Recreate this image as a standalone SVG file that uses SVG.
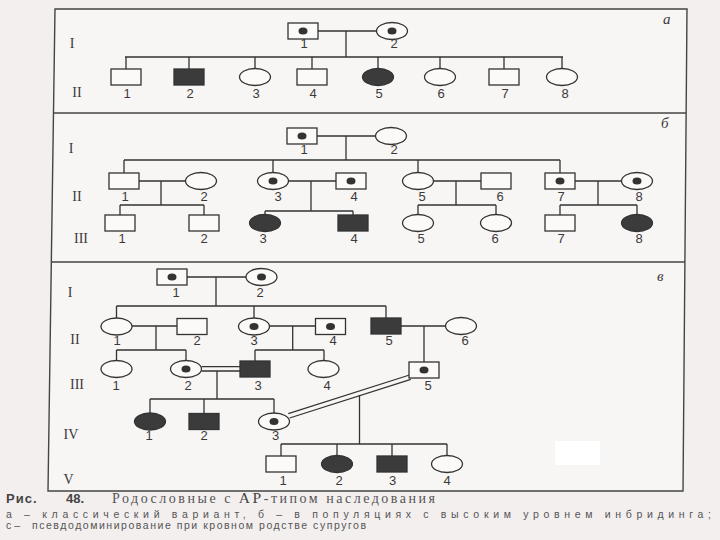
<svg xmlns="http://www.w3.org/2000/svg" width="720" height="540" viewBox="0 0 720 540">
<style>
.m{fill:#fbfaf9;stroke:#333;stroke-width:1.3}
.a{fill:#3b3b3b;stroke:#333;stroke-width:1.3}
.dot{fill:#333}
.ln{stroke:#333;stroke-width:1.3;fill:none}
.fr{stroke:#444;stroke-width:1.4;fill:none}
.num{font-family:"Liberation Sans",Arial,sans-serif;font-size:13px;fill:#3a3a3a;text-anchor:middle}
.rom{font-family:"Liberation Serif","Times New Roman",serif;font-size:14px;fill:#3a3a3a;text-anchor:middle}
.pl{font-family:"Liberation Serif","Times New Roman",serif;font-style:italic;font-size:15px;fill:#3a3a3a}
.cap{font-family:"Liberation Sans",Arial,sans-serif;font-size:10.5px;fill:#555}
</style>
<rect width="720" height="540" fill="#f3efef"/>
<path d="M55 9 H687 L683 491 H48 Z" fill="#f8f5f5"/>
<rect x="555" y="441" width="45" height="24" fill="#ffffff"/>
<g id="frame">
<path class="fr" d="M55 9 H687 L683 491 H48 Z"/>
<line class="fr" x1="54" y1="113" x2="686" y2="113"/>
<line class="fr" x1="52" y1="262" x2="685" y2="262"/>
</g>

<!-- connectors -->
<g id="connectors">
<!-- panel a -->
<path class="ln" d="M318 31 H376.5 M346 31 V57 M125 57 H563 M126 57 V69 M189 57 V69 M255 57 V68.5 M312 57 V69 M378 57 V68.5 M440 57 V68.5 M504 57 V69 M562 57 V68.5"/>
<!-- panel b -->
<path class="ln" d="M317 136 H375.5 M346 136 V160 M124 160 H560 M124 160 V173 M273 160 V172.5 M418 160 V172.5 M560 160 V173"/>
<path class="ln" d="M139 181 H185.5 M161 181 V205 M120 205 H204 M120 205 V215 M204 205 V215"/>
<path class="ln" d="M288.5 181 H336 M311 181 V211 M265 211 V214.5 M265 211 H353 M353 211 V215"/>
<path class="ln" d="M433.5 181 H481 M456 181 V205 M418 205 H496 M418 205 V214.5 M496 205 V214.5"/>
<path class="ln" d="M575 181 H621.5 M598 181 V205 M560 205 H637 M560 205 V215 M637 205 V214.5"/>
<!-- panel c -->
<path class="ln" d="M187 277 H246 M216 277 V306 M116.5 306 H386 M116.5 306 V318 M254 306 V318 M386 306 V318"/>
<path class="ln" d="M132 326 H177 M156 326 V350 M116.5 350 H186 M116.5 350 V360.5 M186 350 V360.5"/>
<path class="ln" d="M269.5 326 H315.5 M292.7 326 V350 M255 350 H324 M255 350 V361 M324 350 V360.5"/>
<path class="ln" d="M401 326 H445.5 M424 326 V362"/>
<path class="ln" d="M201.5 366.7 H240 M201.5 371 H240 M217 371 V399 M150 399 H274 M150 399 V413 M204 399 V413.5 M274 399 V413"/>
<path class="ln" d="M410.8 379.3 L289.6 418 M409.5 375 L288.3 413.7"/>
<path class="ln" d="M359.5 395 V444 M281 444 H447 M281 444 V456 M337 444 V455.5 M392 444 V456 M447 444 V455.5"/>
</g>

<!-- panel a nodes -->
<g id="a-I-1"><rect class="m" x="288" y="23" width="30" height="16"/><ellipse class="dot" cx="303" cy="31" rx="4.5" ry="3.5"/><text class="num" x="304" y="48">1</text></g>
<g id="a-I-2"><ellipse class="m" cx="392" cy="31" rx="15.5" ry="8.5"/><ellipse class="dot" cx="392" cy="31" rx="4.5" ry="3.5"/><text class="num" x="394" y="48">2</text></g>
<g id="a-II-1"><rect class="m" x="111" y="69" width="30" height="16"/><text class="num" x="127" y="98">1</text></g>
<g id="a-II-2"><rect class="a" x="174" y="69" width="30" height="16"/><text class="num" x="190" y="98">2</text></g>
<g id="a-II-3"><ellipse class="m" cx="255" cy="77" rx="15.5" ry="8.5"/><text class="num" x="256" y="98">3</text></g>
<g id="a-II-4"><rect class="m" x="297" y="69" width="30" height="16"/><text class="num" x="313" y="98">4</text></g>
<g id="a-II-5"><ellipse class="a" cx="378" cy="77" rx="15.5" ry="8.5"/><text class="num" x="379" y="98">5</text></g>
<g id="a-II-6"><ellipse class="m" cx="440" cy="77" rx="15.5" ry="8.5"/><text class="num" x="441" y="98">6</text></g>
<g id="a-II-7"><rect class="m" x="489" y="69" width="30" height="16"/><text class="num" x="505" y="98">7</text></g>
<g id="a-II-8"><ellipse class="m" cx="562" cy="77" rx="15.5" ry="8.5"/><text class="num" x="565" y="98">8</text></g>

<!-- panel b nodes -->
<g id="b-I-1"><rect class="m" x="287" y="128" width="30" height="16"/><ellipse class="dot" cx="302" cy="136" rx="4.5" ry="3.5"/><text class="num" x="304" y="154">1</text></g>
<g id="b-I-2"><ellipse class="m" cx="391" cy="136" rx="15.5" ry="8.5"/><text class="num" x="394" y="154">2</text></g>
<g id="b-II-1"><rect class="m" x="109" y="173" width="30" height="16"/><text class="num" x="125" y="201">1</text></g>
<g id="b-II-2"><ellipse class="m" cx="201" cy="181" rx="15.5" ry="8.5"/><text class="num" x="204" y="201">2</text></g>
<g id="b-II-3"><ellipse class="m" cx="273" cy="181" rx="15.5" ry="8.5"/><ellipse class="dot" cx="273" cy="181" rx="4.5" ry="3.5"/><text class="num" x="278" y="201">3</text></g>
<g id="b-II-4"><rect class="m" x="336" y="173" width="30" height="16"/><ellipse class="dot" cx="351" cy="181" rx="4.5" ry="3.5"/><text class="num" x="354" y="201">4</text></g>
<g id="b-II-5"><ellipse class="m" cx="418" cy="181" rx="15.5" ry="8.5"/><text class="num" x="422" y="201">5</text></g>
<g id="b-II-6"><rect class="m" x="481" y="173" width="30" height="16"/><text class="num" x="500" y="201">6</text></g>
<g id="b-II-7"><rect class="m" x="545" y="173" width="30" height="16"/><ellipse class="dot" cx="560" cy="181" rx="4.5" ry="3.5"/><text class="num" x="561" y="201">7</text></g>
<g id="b-II-8"><ellipse class="m" cx="637" cy="181" rx="15.5" ry="8.5"/><ellipse class="dot" cx="637" cy="181" rx="4.5" ry="3.5"/><text class="num" x="639" y="201">8</text></g>
<g id="b-III-1"><rect class="m" x="105" y="215" width="30" height="16"/><text class="num" x="122" y="243">1</text></g>
<g id="b-III-2"><rect class="m" x="189" y="215" width="30" height="16"/><text class="num" x="204" y="243">2</text></g>
<g id="b-III-3"><ellipse class="a" cx="265" cy="223" rx="15.5" ry="8.5"/><text class="num" x="263" y="243">3</text></g>
<g id="b-III-4"><rect class="a" x="338" y="215" width="30" height="16"/><text class="num" x="354" y="243">4</text></g>
<g id="b-III-5"><ellipse class="m" cx="418" cy="223" rx="15.5" ry="8.5"/><text class="num" x="421" y="243">5</text></g>
<g id="b-III-6"><ellipse class="m" cx="496" cy="223" rx="15.5" ry="8.5"/><text class="num" x="495" y="243">6</text></g>
<g id="b-III-7"><rect class="m" x="545" y="215" width="30" height="16"/><text class="num" x="561" y="243">7</text></g>
<g id="b-III-8"><ellipse class="a" cx="637" cy="223" rx="15.5" ry="8.5"/><text class="num" x="639" y="243">8</text></g>

<!-- panel c nodes -->
<g id="c-I-1"><rect class="m" x="157" y="269" width="30" height="16"/><ellipse class="dot" cx="172" cy="277" rx="4.5" ry="3.5"/><text class="num" x="176" y="297">1</text></g>
<g id="c-I-2"><ellipse class="m" cx="261.5" cy="277" rx="15.5" ry="8.5"/><ellipse class="dot" cx="261.5" cy="277" rx="4.5" ry="3.5"/><text class="num" x="260" y="297">2</text></g>
<g id="c-II-1"><ellipse class="m" cx="116.5" cy="326.5" rx="15.5" ry="8.5"/><text class="num" x="117" y="344.5">1</text></g>
<g id="c-II-2"><rect class="m" x="177" y="318.5" width="30" height="16"/><text class="num" x="197" y="344.5">2</text></g>
<g id="c-II-3"><ellipse class="m" cx="254" cy="326.5" rx="15.5" ry="8.5"/><ellipse class="dot" cx="254" cy="326.5" rx="4.5" ry="3.5"/><text class="num" x="254" y="344.5">3</text></g>
<g id="c-II-4"><rect class="m" x="315.5" y="318.5" width="30" height="16"/><ellipse class="dot" cx="330.5" cy="326.5" rx="4.5" ry="3.5"/><text class="num" x="333" y="344.5">4</text></g>
<g id="c-II-5"><rect class="a" x="371" y="318" width="30" height="16"/><text class="num" x="389" y="344.5">5</text></g>
<g id="c-II-6"><ellipse class="m" cx="461" cy="326" rx="15.5" ry="8.5"/><text class="num" x="465" y="344.5">6</text></g>
<g id="c-III-1"><ellipse class="m" cx="116.5" cy="369" rx="15.5" ry="8.5"/><text class="num" x="116" y="389.5">1</text></g>
<g id="c-III-2"><ellipse class="m" cx="186" cy="369" rx="15.5" ry="8.5"/><ellipse class="dot" cx="186" cy="369" rx="4.5" ry="3.5"/><text class="num" x="188" y="389.5">2</text></g>
<g id="c-III-3"><rect class="a" x="240" y="361" width="30" height="16"/><text class="num" x="258" y="389.5">3</text></g>
<g id="c-III-4"><ellipse class="m" cx="323.5" cy="369" rx="15.5" ry="8.5"/><text class="num" x="327" y="389.5">4</text></g>
<g id="c-III-5"><rect class="m" x="409" y="362" width="30" height="16"/><ellipse class="dot" cx="424" cy="370" rx="4.5" ry="3.5"/><text class="num" x="428" y="389.5">5</text></g>
<g id="c-IV-1"><ellipse class="a" cx="150" cy="421.5" rx="15.5" ry="8.5"/><text class="num" x="149" y="439.5">1</text></g>
<g id="c-IV-2"><rect class="a" x="189" y="413.5" width="30" height="16"/><text class="num" x="204" y="439.5">2</text></g>
<g id="c-IV-3"><ellipse class="m" cx="274" cy="421.5" rx="15.5" ry="8.5"/><ellipse class="dot" cx="274" cy="421.5" rx="4.5" ry="3.5"/><text class="num" x="275.5" y="439.5">3</text></g>
<g id="c-V-1"><rect class="m" x="266" y="456" width="30" height="16"/><text class="num" x="283" y="484.5">1</text></g>
<g id="c-V-2"><ellipse class="a" cx="337" cy="464" rx="15.5" ry="8.5"/><text class="num" x="339" y="484.5">2</text></g>
<g id="c-V-3"><rect class="a" x="377" y="456" width="30" height="16"/><text class="num" x="392.5" y="484.5">3</text></g>
<g id="c-V-4"><ellipse class="m" cx="447" cy="464" rx="15.5" ry="8.5"/><text class="num" x="447" y="484.5">4</text></g>

<!-- generation labels and panel letters -->
<g id="labels">
<text class="rom" x="72" y="48">I</text>
<text class="rom" x="77" y="97">II</text>
<text class="rom" x="71" y="153">I</text>
<text class="rom" x="77" y="201">II</text>
<text class="rom" x="81" y="243">III</text>
<text class="rom" x="70" y="297">I</text>
<text class="rom" x="75" y="344">II</text>
<text class="rom" x="77" y="389">III</text>
<text class="rom" x="71" y="439">IV</text>
<text class="rom" x="68.5" y="484">V</text>
<text class="pl" x="663" y="24">а</text>
<text class="pl" x="661" y="128">б</text>
<text class="pl" x="657" y="281">в</text>
</g>

<g id="caption">
<text x="6" y="503" font-family="'Liberation Sans',Arial,sans-serif" font-size="13" font-weight="bold" fill="#444" letter-spacing="1">Рис.</text>
<text x="66" y="503" font-family="'Liberation Sans',Arial,sans-serif" font-size="13" font-weight="bold" fill="#444">48.</text>
<text x="112" y="503" font-family="'Liberation Serif','Times New Roman',serif" font-size="14" fill="#555" textLength="323" lengthAdjust="spacing">Родословные с <tspan font-size="15.5" fill="#444">АР</tspan>-типом наследования</text>
<text class="cap" x="6" y="518" textLength="705" lengthAdjust="spacing">а – классический вариант, б – в популяциях с высоким уровнем инбридинга;</text>
<text class="cap" x="6" y="529">с –</text>
<text class="cap" x="32" y="529" textLength="334" lengthAdjust="spacing">псевдодоминирование при кровном родстве супругов</text>
</g>
</svg>
